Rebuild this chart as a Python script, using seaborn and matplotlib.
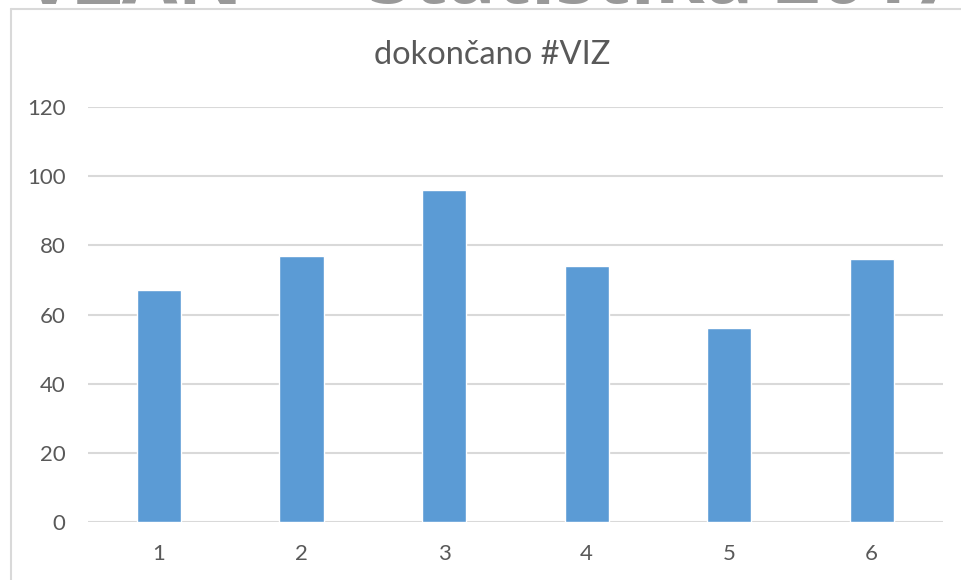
import matplotlib
matplotlib.use("Agg")
import matplotlib.pyplot as plt
import seaborn as sns
import pandas as pd
from matplotlib.lines import Line2D

# podatki
kategorije = ["1", "2", "3", "4", "5", "6"]
vrednosti = [67, 77, 96, 74, 56, 76]
y_ticks = [0, 20, 40, 60, 80, 100, 120]
naslov = "dokončano #VIZ"

sns.set_theme(style="white")
plt.rcParams['font.family'] = ['Lato', 'DejaVu Sans']

df = pd.DataFrame({"kat": kategorije, "vrednost": vrednosti})

fig = plt.figure(figsize=(9.61, 5.8), dpi=100)
fig.patch.set_facecolor("white")

# odrezan naslov prosojnice v ozadju (v izvirniku je prav tako odrezan)
fig.text(23 / 961, 1 - 3.5 / 580, "VZAN", fontsize=58, fontweight="bold",
         color="#999999", va="baseline", ha="left", family=["Open Sans", "DejaVu Sans"])
fig.text(368 / 961, 1 - 3.5 / 580, "Statistika 2017", fontsize=58, fontweight="bold",
         color="#999999", va="baseline", ha="left", family=["Open Sans", "DejaVu Sans"])

# okvir grafikona
fig.add_artist(Line2D([11 / 961, 11 / 961], [0, 1 - 8.5 / 580], transform=fig.transFigure,
                      color="#D9D9D9", lw=1.5))
fig.add_artist(Line2D([11 / 961, 1], [1 - 8.5 / 580, 1 - 8.5 / 580], transform=fig.transFigure,
                      color="#D9D9D9", lw=1.5))

ax = fig.add_axes([87.7 / 961, 0.1, 855.3 / 961, 0.7155])
sns.barplot(data=df, x="kat", y="vrednost", color="#5B9BD5", width=0.31,
            saturation=1, ax=ax, zorder=3)

ax.set_ylim(0, 120)
ax.set_yticks(y_ticks)
ax.set_xlim(-0.5, len(kategorije) - 0.5)
ax.yaxis.grid(True, color="#D9D9D9", lw=1.5, zorder=0)
ax.set_axisbelow(True)
for s in ax.spines.values():
    s.set_visible(False)
ax.set_xlabel("")
ax.set_ylabel("")
ax.tick_params(axis="both", length=0, labelsize=16, labelcolor="#595959")
ax.tick_params(axis="y", pad=16)
ax.tick_params(axis="x", pad=16)

fig.text(492 / 961, 1 - 64 / 580, naslov, fontsize=23.5, color="#595959",
         ha="center", va="baseline")

fig.savefig("out.png", dpi=100, facecolor="white")
